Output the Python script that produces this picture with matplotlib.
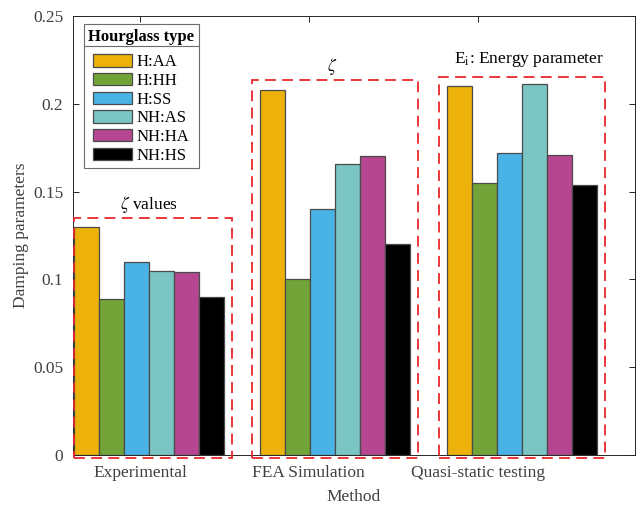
import matplotlib
matplotlib.use("Agg")
import matplotlib.pyplot as plt
from matplotlib.patches import Rectangle
from matplotlib.lines import Line2D
from matplotlib.ticker import FormatStrFormatter
import numpy as np

plt.rcParams["font.family"] = ["Liberation Serif", "DejaVu Serif"]
plt.rcParams["mathtext.fontset"] = "stix"

# data
methods = ["Experimental", "FEA Simulation", "Quasi-static testing"]
hourglass_types = ["H:AA", "H:HH", "H:SS", "NH:AS", "NH:HA", "NH:HS"]
h_aa = [0.130, 0.208, 0.210]
h_hh = [0.089, 0.100, 0.155]
h_ss = [0.110, 0.140, 0.172]
nh_as = [0.105, 0.166, 0.211]
nh_ha = [0.104, 0.170, 0.171]
nh_hs = [0.090, 0.120, 0.154]
box_tops = [0.135, 0.2135, 0.215]
box_notes = [r"$\zeta$ values", r"$\zeta$", r"E$_{\rm i}$: Energy parameter"]

colors = ["#EDB10B", "#72A338", "#4AB3E6", "#7BC6C4", "#B5468F", "#000000"]
series = [h_aa, h_hh, h_ss, nh_as, nh_ha, nh_hs]
txt = "#404040"

fig = plt.figure(figsize=(6.38, 5.07), dpi=100)
ax = fig.add_axes([0.1144, 0.1026, 0.8809, 0.8658])

ticks = np.arange(1, len(methods) + 1)
# bar groups sit a little right of the tick marks in the original
centers = ticks + np.array([0.053, 0.156, 0.262])
w = 0.1485
for i, (vals, c) in enumerate(zip(series, colors)):
    ax.bar(centers + (i - 2.5) * w, vals, width=w, color=c,
           edgecolor="#4a4a4a", linewidth=0.9, label=hourglass_types[i], zorder=2)

xlo, xhi = 0.603, 3.932
ax.set_xlim(xlo, xhi)
ax.set_ylim(0, 0.25)

# dashed red boxes around each group
for k in range(len(methods)):
    left = max(centers[k] - 0.49, xlo + 0.004)
    right = centers[k] + 0.49
    bottom = -0.002
    ax.add_patch(Rectangle((left, bottom), right - left, box_tops[k] - bottom,
                           fill=False, edgecolor="#E8262B", linewidth=1.3,
                           linestyle=(0, (6, 3.5)), clip_on=False, zorder=3))
ax.text(centers[0], 0.1425, box_notes[0], ha="center", va="center", fontsize=12.5)
ax.text(centers[1] - 0.02, 0.2215, box_notes[1], ha="center", va="center", fontsize=12.5)
ax.text(centers[2] + 0.04, 0.2255, box_notes[2], ha="center", va="center", fontsize=12.5)

ax.set_xticks(ticks)
ax.set_xticklabels(methods)
ax.set_yticks(np.arange(0, 0.2501, 0.05))
ax.yaxis.set_major_formatter(FormatStrFormatter("%g"))
ax.tick_params(direction="in", top=True, right=True, labelsize=12.5,
               colors="#262626", labelcolor=txt, length=4, width=0.7)
for s in ax.spines.values():
    s.set_color("#262626")
    s.set_linewidth(0.7)
ax.tick_params(axis="x", pad=7)
ax.tick_params(axis="y", pad=7)

ax.set_xlabel("Method", fontsize=12.5, color=txt, labelpad=6)
ax.set_ylabel("Damping parameters", fontsize=12.5, color=txt, labelpad=3)

leg = ax.legend(title="Hourglass type", loc="upper left",
                bbox_to_anchor=(0.019, 0.982), fontsize=12,
                title_fontproperties={"weight": "bold", "size": 12},
                fancybox=False, edgecolor="#6b6b6b", framealpha=1,
                handlelength=2.3, handleheight=0.75, handletextpad=0.3,
                labelspacing=0.16, borderpad=0.28, borderaxespad=0)
leg.get_frame().set_linewidth(0.8)
leg.set_zorder(5)
leg._legend_box.sep = 7

# separator line under the legend title
fig.canvas.draw()
lb = leg.get_window_extent()
tb = leg.get_title().get_window_extent()
inv = fig.transFigure.inverted()
y_sep = inv.transform((0, tb.y0 - 1.5))[1]
x0 = inv.transform((lb.x0, 0))[0]
x1 = inv.transform((lb.x1, 0))[0]
fig.add_artist(Line2D([x0, x1], [y_sep, y_sep], color="#6b6b6b", linewidth=0.8, zorder=6))

plt.savefig("out.png", dpi=100)
